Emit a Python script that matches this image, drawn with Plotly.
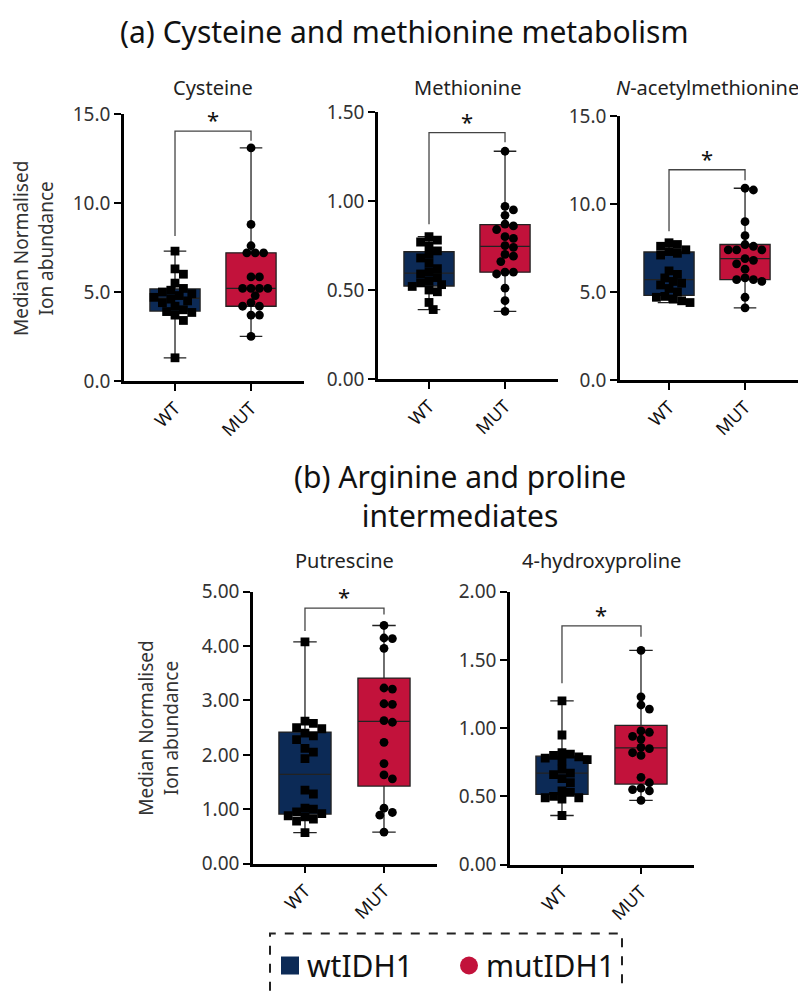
import numpy as np
import plotly.graph_objects as go

# ---------------- data ----------------
groups = ["WT", "MUT"]
legend_names = ["wtIDH1", "mutIDH1"]
panel_titles = ["Cysteine", "Methionine", "<i>N</i>-acetylmethionine",
                "Putrescine", "4-hydroxyproline"]

cysteine_wt = [7.3, 6.3, 6.0, 5.5, 5.2, 5.1, 5.0, 4.9, 4.8, 4.7, 4.6, 4.5,
               4.4, 4.2, 4.0, 3.9, 3.85, 3.7, 3.4, 1.3]
cysteine_mut = [13.1, 8.8, 7.6, 7.2, 7.2, 7.2, 5.85, 5.85, 5.2, 5.2, 5.2, 5.2,
                4.8, 4.4, 4.2, 4.2, 3.7, 3.7, 2.5]

methionine_wt = [0.80, 0.78, 0.77, 0.75, 0.72, 0.70, 0.68, 0.65, 0.62, 0.60,
                 0.59, 0.57, 0.55, 0.54, 0.53, 0.52, 0.50, 0.49, 0.43, 0.39]
methionine_mut = [1.28, 0.97, 0.95, 0.92, 0.87, 0.86, 0.84, 0.80, 0.79, 0.75,
                  0.74, 0.70, 0.69, 0.66, 0.60, 0.60, 0.59, 0.51, 0.44, 0.38]

nacetylmet_wt = [7.8, 7.7, 7.6, 7.4, 7.3, 7.2, 7.1, 6.2, 6.0, 5.8, 5.6, 5.5,
                 5.4, 5.2, 5.0, 4.75, 4.7, 4.6, 4.5, 4.4]
nacetylmet_mut = [10.9, 10.8, 9.0, 8.2, 7.7, 7.6, 7.4, 7.4, 7.4, 6.9, 6.8, 6.6,
                  6.3, 5.8, 5.7, 5.7, 5.6, 4.7, 4.1]

putrescine_wt = [4.08, 2.62, 2.58, 2.50, 2.48, 2.40, 2.35, 2.28, 2.12, 2.05,
                 1.93, 1.35, 1.28, 1.02, 1.00, 0.95, 0.92, 0.88, 0.86, 0.82,
                 0.78, 0.57]
putrescine_mut = [4.38, 4.15, 4.14, 3.96, 3.23, 3.21, 2.94, 2.93, 2.63, 2.60,
                  2.23, 1.84, 1.63, 1.56, 1.02, 0.94, 0.89, 0.58]

hydroxypro_wt = [1.20, 0.95, 0.82, 0.81, 0.80, 0.79, 0.78, 0.77, 0.76, 0.70,
                 0.67, 0.66, 0.63, 0.60, 0.54, 0.53, 0.50, 0.49, 0.49, 0.48,
                 0.36]
hydroxypro_mut = [1.57, 1.23, 1.17, 1.14, 0.98, 0.97, 0.94, 0.92, 0.86, 0.85,
                  0.82, 0.80, 0.64, 0.60, 0.56, 0.55, 0.54, 0.47]

y_max = [15.0, 1.5, 15.0, 5.0, 2.0]
y_dtick = [5.0, 0.5, 5.0, 1.0, 0.5]
y_fmt = [".1f", ".2f", ".1f", ".2f", ".2f"]
significance = ["*", "*", "*", "*", "*"]
# significance bracket levels (top, left leg end, right leg end)
bracket_top = [14.05, 1.385, 11.95, 4.70, 1.75]
bracket_left = [8.15, 0.87, 8.45, 4.28, 1.33]
bracket_right = [13.5, 1.33, 11.35, 4.58, 1.67]

panel_data = [
    (cysteine_wt, cysteine_mut),
    (methionine_wt, methionine_mut),
    (nacetylmet_wt, nacetylmet_mut),
    (putrescine_wt, putrescine_mut),
    (hydroxypro_wt, hydroxypro_mut),
]

# ---------------- layout geometry (pixels) ----------------
W, H = 798, 992


def Y(y):
    # calibrated vertical placement
    return (y - 13.8) / 0.9745


# (x_left, x_right, y_top, y_bottom, x_range)
geom = [
    (124, 304, 115, 382, (-0.671, 1.697)),
    (378, 558, 113, 380, (-0.671, 1.697)),
    (620, 798, 117, 381, (-0.645, 1.697)),
    (253, 437, 593, 865, (-0.658, 1.671)),
    (510, 694, 593, 866, (-0.658, 1.671)),
]
title_y = [88, 88, 88, 562, 562]

colors = ["#0c2a56", "#c2123b"]
symbols = ["square", "circle"]
MS = 8.8
FONT = "Noto Sans, Open Sans, DejaVu Sans, sans-serif"


def swarm(values, ppy, ppx, d=8.4):
    vals = np.asarray(values, dtype=float)
    order = np.argsort(-vals)
    placed = []
    offs = np.zeros(len(vals))
    cands = [0]
    for j in range(1, 40):
        cands += [j, -j]
    for i in order:
        ypx = vals[i] * ppy
        for c in cands:
            xpx = c * d * 0.5
            ok = all((xpx - px) ** 2 + (ypx - py) ** 2 >= (d * 0.97) ** 2
                     for px, py in placed)
            if ok:
                placed.append((xpx, ypx))
                offs[i] = xpx / ppx
                break
    return offs


def ann(x, y, text, size, color="#111", **kw):
    d = dict(x=x / W, y=1 - Y(y) / H, xref="paper", yref="paper", text=text,
             showarrow=False, xanchor="center", yanchor="middle",
             font=dict(size=size, color=color))
    d.update(kw)
    return d


fig = go.Figure()
layout = dict(width=W, height=H, margin=dict(l=0, r=0, t=0, b=0),
              paper_bgcolor="white", plot_bgcolor="rgba(0,0,0,0)",
              showlegend=False, font=dict(family=FONT, color="#222"))
shapes = []
annotations = []

for p, ((wt, mut), (xl, xr, yt, yb, xrng)) in enumerate(zip(panel_data, geom)):
    n = p + 1
    xa = "x" if n == 1 else f"x{n}"
    ya = "y" if n == 1 else f"y{n}"
    ppy = (yb - yt) / y_max[p]
    ppx = (xr - xl) / (xrng[1] - xrng[0])
    for g, vals in enumerate((wt, mut)):
        v = np.asarray(vals, dtype=float)
        q1, med, q3 = np.percentile(v, [25, 50, 75], method="weibull")
        fig.add_trace(go.Box(
            x=[g], q1=[q1], median=[med], q3=[q3],
            lowerfence=[v.min()], upperfence=[v.max()],
            width=0.66, whiskerwidth=0.45, boxpoints=False,
            fillcolor=colors[g], line=dict(color="#222", width=1.3),
            xaxis=xa, yaxis=ya, hoverinfo="skip"))
    for g, vals in enumerate((wt, mut)):
        offs = swarm(vals, ppy, ppx)
        fig.add_trace(go.Scatter(
            x=g + offs, y=vals, mode="markers",
            marker=dict(symbol=symbols[g], size=MS, color="black",
                        line=dict(width=0)),
            xaxis=xa, yaxis=ya, hoverinfo="skip"))
    axis_common = dict(showline=True, linewidth=2.5, linecolor="black",
                       ticks="outside", ticklen=7, tickwidth=2.2,
                       tickcolor="black", showgrid=False, zeroline=False,
                       fixedrange=True)
    layout["xaxis" if n == 1 else f"xaxis{n}"] = dict(
        domain=[xl / W, xr / W], range=list(xrng), tickvals=[0, 1],
        ticktext=groups, tickangle=-45, anchor=ya,
        tickfont=dict(size=18, color="#111"), **axis_common)
    layout["yaxis" if n == 1 else f"yaxis{n}"] = dict(
        domain=[1 - Y(yb) / H, 1 - Y(yt) / H], range=[0, y_max[p]],
        dtick=y_dtick[p], tick0=0, tickformat=y_fmt[p], anchor=xa,
        tickfont=dict(size=19, color="#333"), **axis_common)
    # significance bracket
    shapes.append(dict(type="path", xref=xa, yref=ya,
                       path=f"M0,{bracket_left[p]} L0,{bracket_top[p]} "
                            f"L1,{bracket_top[p]} L1,{bracket_right[p]}",
                       line=dict(color="#444", width=1.3)))
    annotations.append(dict(x=0.5, y=bracket_top[p], xref=xa, yref=ya,
                            text=significance[p], showarrow=False,
                            xanchor="center", yanchor="bottom", yshift=-5,
                            font=dict(size=22, color="#111")))
    # panel title centred over the two groups
    cx = xl + (0.5 - xrng[0]) * ppx
    annotations.append(ann(cx, title_y[p], panel_titles[p], 20, "#222"))

# section titles
annotations.append(ann(404, 32, "(a) Cysteine and methionine metabolism", 30))
annotations.append(ann(460, 497, "(b) Arginine and proline<br>intermediates", 30))
# y-axis titles
for cx, cy in [(33, 250), (159, 730)]:
    annotations.append(ann(cx, cy, "Median Normalised<br>Ion abundance", 19,
                           "#333", textangle=-90))

# legend (custom, dashed frame) on a small helper axis at the bottom
lx0, lx1, ly0, ly_item = 270, 622, 935, 967
leg_top = Y(ly0)
layout["xaxis6"] = dict(domain=[lx0 / W, lx1 / W], range=[0, lx1 - lx0],
                        visible=False, fixedrange=True, anchor="y6")
layout["yaxis6"] = dict(domain=[0, 1 - leg_top / H], range=[H, leg_top],
                        visible=False, fixedrange=True, anchor="x6")
leg_x = [20, 199]
for g in range(2):
    fig.add_trace(go.Scatter(x=[leg_x[g]], y=[Y(ly_item)], mode="markers",
                             marker=dict(symbol=symbols[g], size=18,
                                         color=colors[g]),
                             cliponaxis=False,
                             xaxis="x6", yaxis="y6", hoverinfo="skip"))
    annotations.append(dict(x=leg_x[g] + 15, y=Y(ly_item), xref="x6", yref="y6",
                            text=legend_names[g], xanchor="left",
                            yanchor="middle", showarrow=False,
                            font=dict(size=30, color="#111")))
shapes.append(dict(type="rect", xref="paper", yref="paper",
                   x0=lx0 / W, x1=lx1 / W, y0=-0.05, y1=1 - leg_top / H,
                   line=dict(color="#222", width=2, dash="dash")))

layout["shapes"] = shapes
layout["annotations"] = annotations
fig.update_layout(**layout)
fig.write_html("out.html")
